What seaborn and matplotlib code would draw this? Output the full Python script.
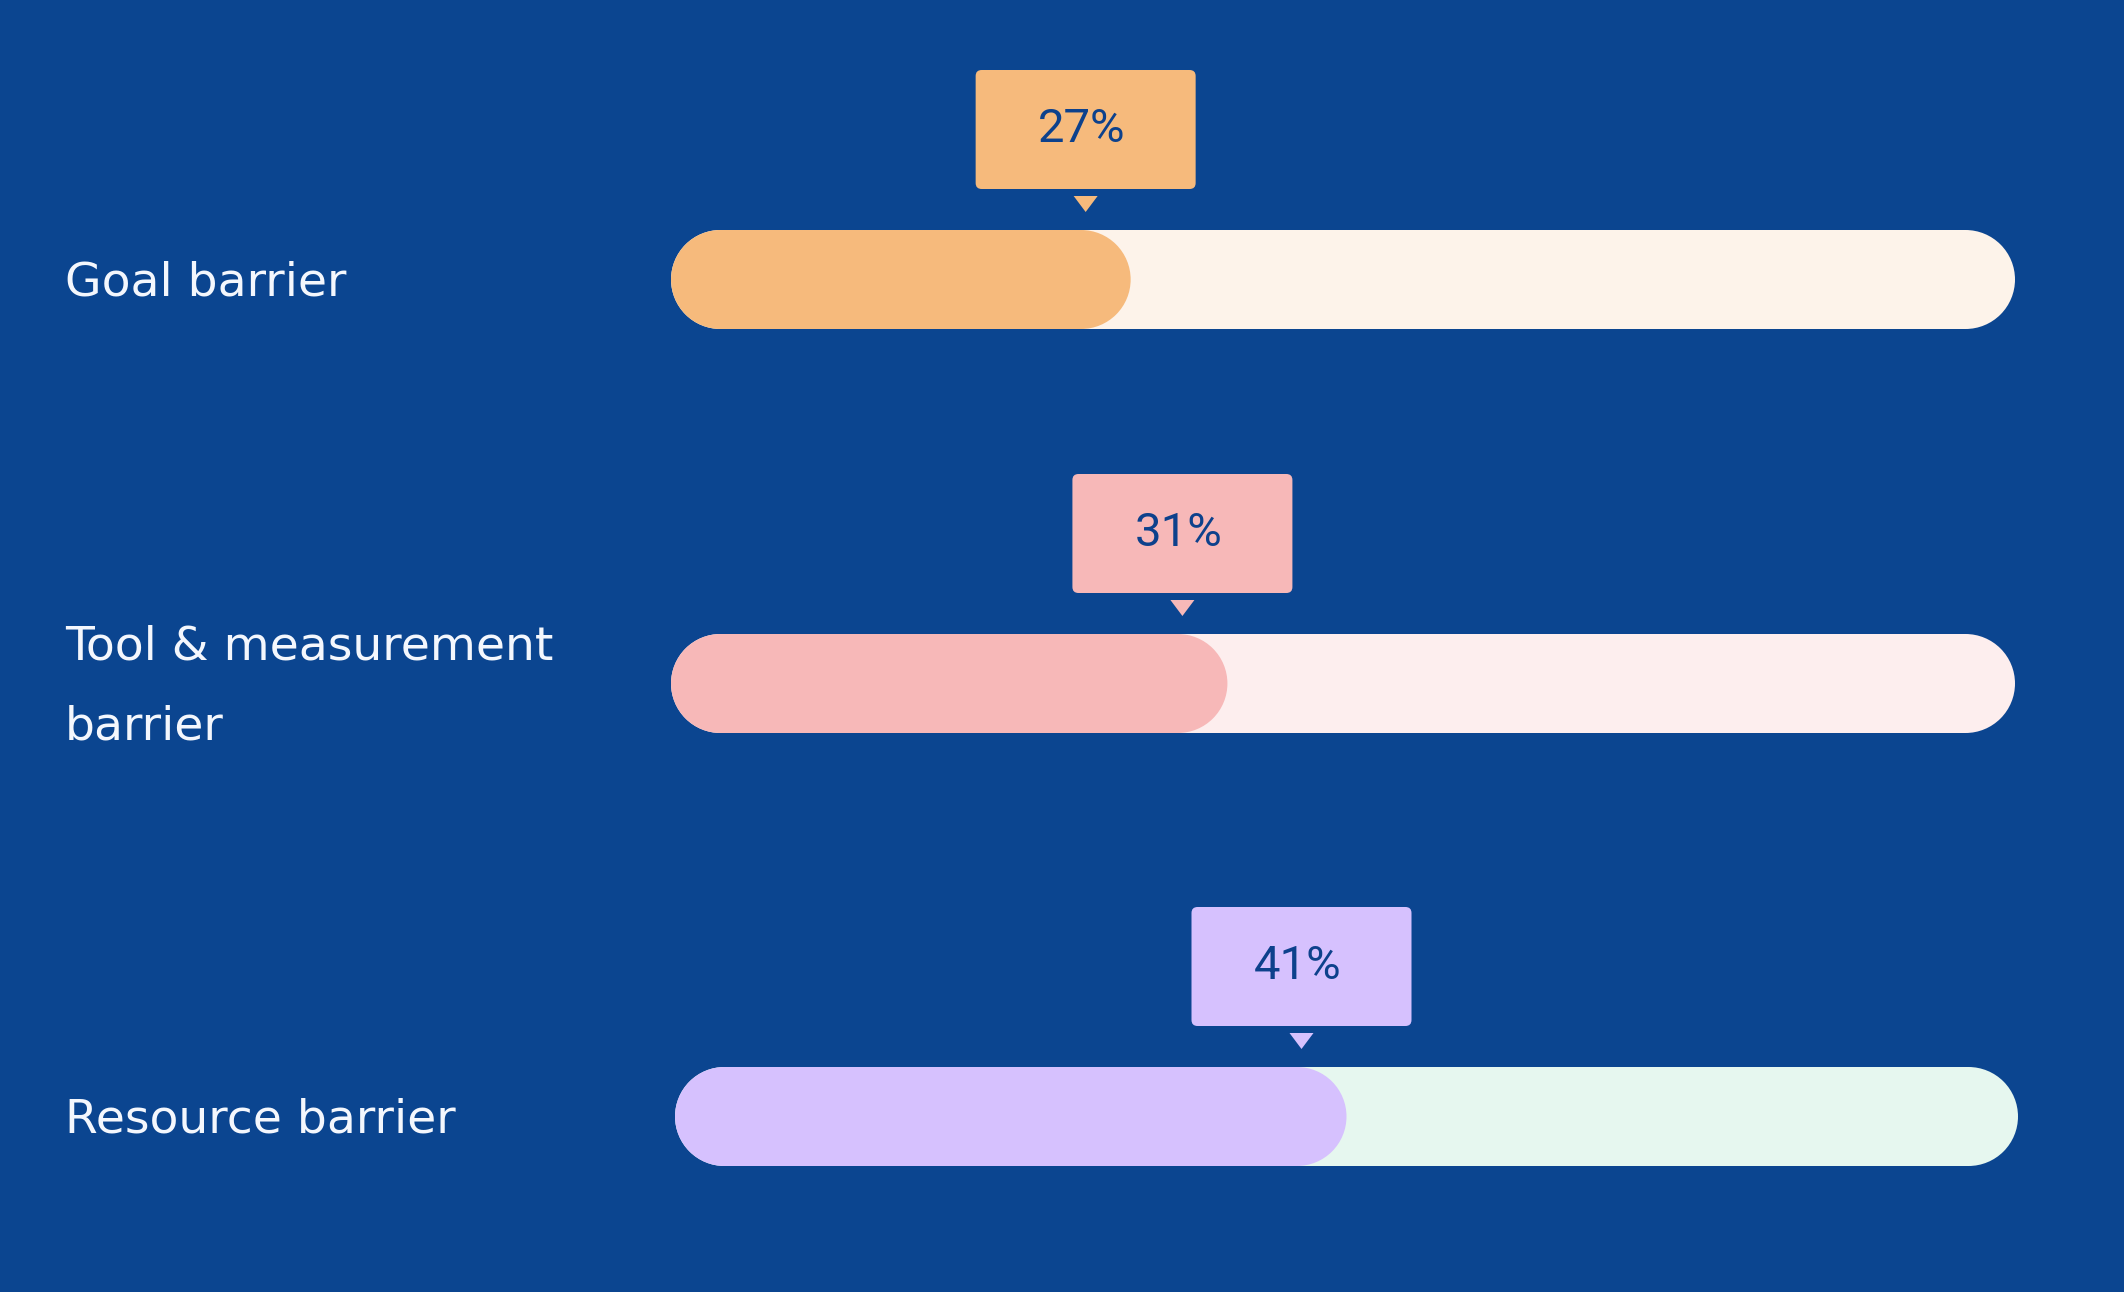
import matplotlib
matplotlib.use("Agg")
import matplotlib.pyplot as plt
import seaborn as sns
import pandas as pd
from matplotlib.patches import FancyBboxPatch, Polygon, Ellipse, Rectangle
from matplotlib.transforms import IdentityTransform

# ---------------- data ----------------
categories = ["Goal barrier", "Tool & measurement\nbarrier", "Resource barrier"]
values = [27, 31, 41]                       # labelled percentages
value_labels = [f"{v}%" for v in values]
fill_extent = [34.2, 41.4, 50.0]            # share of the track that is filled, as drawn
track_total = [100, 100, 100]
fill_colors = ["#F6BA7C", "#F7B8B8", "#D6C1FE"]
track_colors = ["#FDF3EA", "#FDEEEE", "#E6F7EF"]

# ---------------- style / layout ----------------
W, H, DPI = 2124, 1292, 100
BG = "#0B4590"
TXT_DARK = "#0D418C"
TXT_LIGHT = "#F4F7FD"

sns.set_theme(style="white")
plt.rcParams["font.family"] = ["DejaVu Sans"]

fig = plt.figure(figsize=(W / DPI, H / DPI), dpi=DPI, facecolor=BG)

# pixel boxes of each track (left, right, top, bottom) in image coordinates
rows_px = [(671, 2015, 230, 329), (671, 2015, 634, 733), (675, 2018, 1067, 1166)]
ident = IdentityTransform()

for i, cat in enumerate(categories):
    x0, x1, ytop, ybot = rows_px[i]
    ax = fig.add_axes([x0 / W, (H - ybot) / H, (x1 - x0) / W, (ybot - ytop) / H])
    ax.set_facecolor("none")
    df = pd.DataFrame({
        "category": [cat, cat],
        "layer": ["track", "fill"],
        "value": [track_total[i], fill_extent[i]],
    })
    sns.barplot(data=df, x="value", y="category", hue="layer",
                hue_order=["track", "fill"],
                palette=[track_colors[i], fill_colors[i]], saturation=1,
                dodge=False, width=1.0, ax=ax, legend=False, orient="h")
    ax.set_xlim(0, 100)
    ax.set_ylim(0.5, -0.5)
    ax.axis("off")

    # turn the bars into pill shapes (rectangle + semicircular ends)
    pxu = (x1 - x0) / 100.0          # px per x unit
    r_x = ((ybot - ytop) / 2.0) / pxu  # end radius in x units
    for z, p in enumerate(list(ax.patches)):
        bx, by, bw, bh = p.get_x(), p.get_y(), p.get_width(), p.get_height()
        col = p.get_facecolor()
        p.remove()
        zz = 2 + z
        ax.add_patch(Rectangle((bx + r_x, by), bw - 2 * r_x, bh, fc=col, ec="none",
                               zorder=zz, clip_on=False))
        for cxe in (bx + r_x, bx + bw - r_x):
            ax.add_patch(Ellipse((cxe, by + bh / 2), 2 * r_x, abs(bh), fc=col,
                                 ec="none", zorder=zz, clip_on=False))

    # callout above the fill end
    fig.canvas.draw()
    marker_x = fill_extent[i] - 45 / pxu
    cx = ax.transData.transform((marker_x, 0))[0]
    box = FancyBboxPatch((cx - 110, H - (ytop - 41)), 220, 119,
                         boxstyle="round,pad=0,rounding_size=6",
                         transform=ident, fc=fill_colors[i], ec="none")
    fig.add_artist(box)
    tri = Polygon([(cx - 12, H - (ytop - 34)), (cx + 12, H - (ytop - 34)),
                   (cx, H - (ytop - 18))], closed=True,
                  transform=ident, fc=fill_colors[i], ec="none")
    fig.add_artist(tri)
    fig.text(cx - 4, H - (ytop - 88), value_labels[i], transform=ident,
             ha="center", va="baseline", fontsize=34, color=TXT_DARK,
             family=["Roboto", "DejaVu Sans"])

    # category label, lines centred on the bar
    lines = cat.split("\n")
    centre = (ytop + ybot) / 2 + 16
    n = len(lines)
    for k, line in enumerate(lines):
        base = centre + (k - (n - 1) / 2) * 80
        fig.text(65, H - base, line, transform=ident, ha="left", va="baseline",
                 fontsize=34, color=TXT_LIGHT)

fig.savefig("out.png", dpi=DPI, facecolor=BG)
